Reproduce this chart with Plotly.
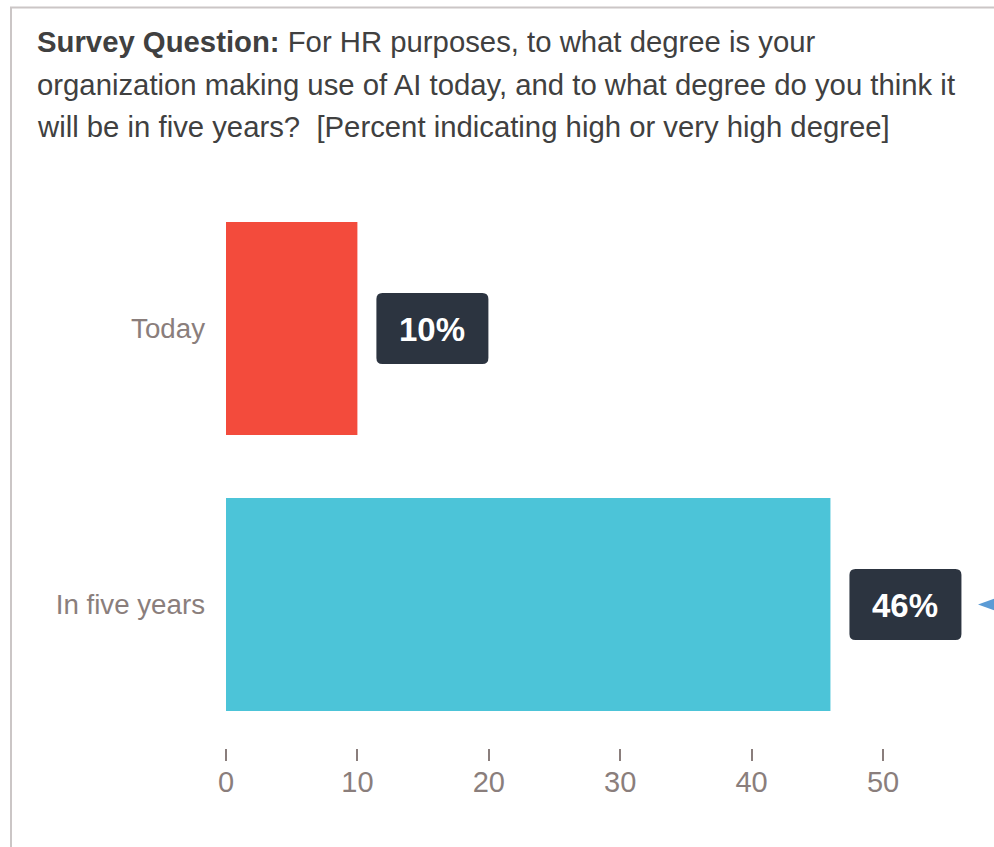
import plotly.graph_objects as go

# Survey data
categories = ["Today", "In five years"]
values = [10, 46]
bar_colors = ["#F34B3C", "#4CC4D8"]
x_ticks = [0, 10, 20, 30, 40, 50]

title_lines = [
    "<b>Survey Question:</b> For HR purposes, to what degree is your",
    "organization making use of AI today, and to what degree do you think it",
    "will be in five years?  [Percent indicating high or very high degree]",
]

W, H = 994, 847
ML, MR, MT, MB = 226, 6, 190, 99
PW, PH = W - ML - MR, H - MT - MB

FONT = "Liberation Sans, Arial, Helvetica, sans-serif"
LABEL_GRAY = "#8A7E7C"
BOX_COLOR = "#2C3440"


def paper_x(px):
    return (px - ML) / PW


def paper_y(py):
    return (H - MB - py) / PH


fig = go.Figure(
    go.Bar(
        x=values,
        y=categories,
        orientation="h",
        marker=dict(color=bar_colors, line=dict(width=0)),
        width=0.772,
        hoverinfo="skip",
    )
)

# Rounded value boxes attached to each bar end
for i, (cat, v) in enumerate(zip(categories, values)):
    x0, x1, h, r = 19, 131, 35.5, 6
    path = (
        f"M {x0 + r},{-h} L {x1 - r},{-h} Q {x1},{-h} {x1},{-h + r} "
        f"L {x1},{h - r} Q {x1},{h} {x1 - r},{h} "
        f"L {x0 + r},{h} Q {x0},{h} {x0},{h - r} "
        f"L {x0},{-h + r} Q {x0},{-h} {x0 + r},{-h} Z"
    )
    fig.add_shape(
        type="path", xref="x", yref="y",
        xsizemode="pixel", ysizemode="pixel",
        xanchor=v, yanchor=i, path=path,
        fillcolor=BOX_COLOR, line=dict(width=0), layer="above",
    )
    fig.add_annotation(
        x=v, y=cat, xref="x", yref="y", xanchor="center", yanchor="middle",
        xshift=(x0 + x1) / 2, yshift=-1, text=f"<b>{v}%</b>", showarrow=False,
        font=dict(family=FONT, size=33, color="#FFFFFF"),
    )

# Small pointer marker at the right edge
fig.add_shape(
    type="path", xref="paper", yref="y",
    xsizemode="pixel", ysizemode="pixel",
    xanchor=1, yanchor=1,
    path="M -10,0 L 12,8 L 12,-8 Z",
    fillcolor="#5B9BD5", line=dict(width=0),
)

# Outer frame
fig.add_shape(
    type="rect", xref="paper", yref="paper",
    x0=paper_x(11), x1=paper_x(1010), y0=paper_y(860), y1=paper_y(7.5),
    line=dict(color="#CBC6C6", width=2), fillcolor="rgba(0,0,0,0)",
)

# Title lines
for k, line in enumerate(title_lines):
    fig.add_annotation(
        xref="paper", yref="paper", x=paper_x(35), y=paper_y(42 + 42 * k),
        xanchor="left", yanchor="middle", text=line, showarrow=False,
        font=dict(family=FONT, size=29.3, color="#404040"), align="left",
    )

fig.update_layout(
    width=W, height=H,
    margin=dict(l=ML, r=MR, t=MT, b=MB, pad=0),
    paper_bgcolor="#FFFFFF", plot_bgcolor="#FFFFFF",
    showlegend=False,
    font=dict(family=FONT, color=LABEL_GRAY),
    xaxis=dict(
        range=[0, PW / 13.14], tickvals=x_ticks, ticktext=[str(t) for t in x_ticks],
        showgrid=False, zeroline=False, showline=False,
        ticks="outside", ticklen=12, tickwidth=1.5, tickcolor=LABEL_GRAY,
        ticklabelstandoff=-4,
        tickfont=dict(family=FONT, size=29, color=LABEL_GRAY),
        fixedrange=True,
    ),
    yaxis=dict(
        type="category", categoryorder="array", categoryarray=categories,
        range=[1.52, -0.502], showgrid=False, zeroline=False, showline=False,
        ticks="", ticklabelstandoff=20,
        tickfont=dict(family=FONT, size=27.7, color=LABEL_GRAY),
        fixedrange=True,
    ),
)

fig.write_html("out.html")
